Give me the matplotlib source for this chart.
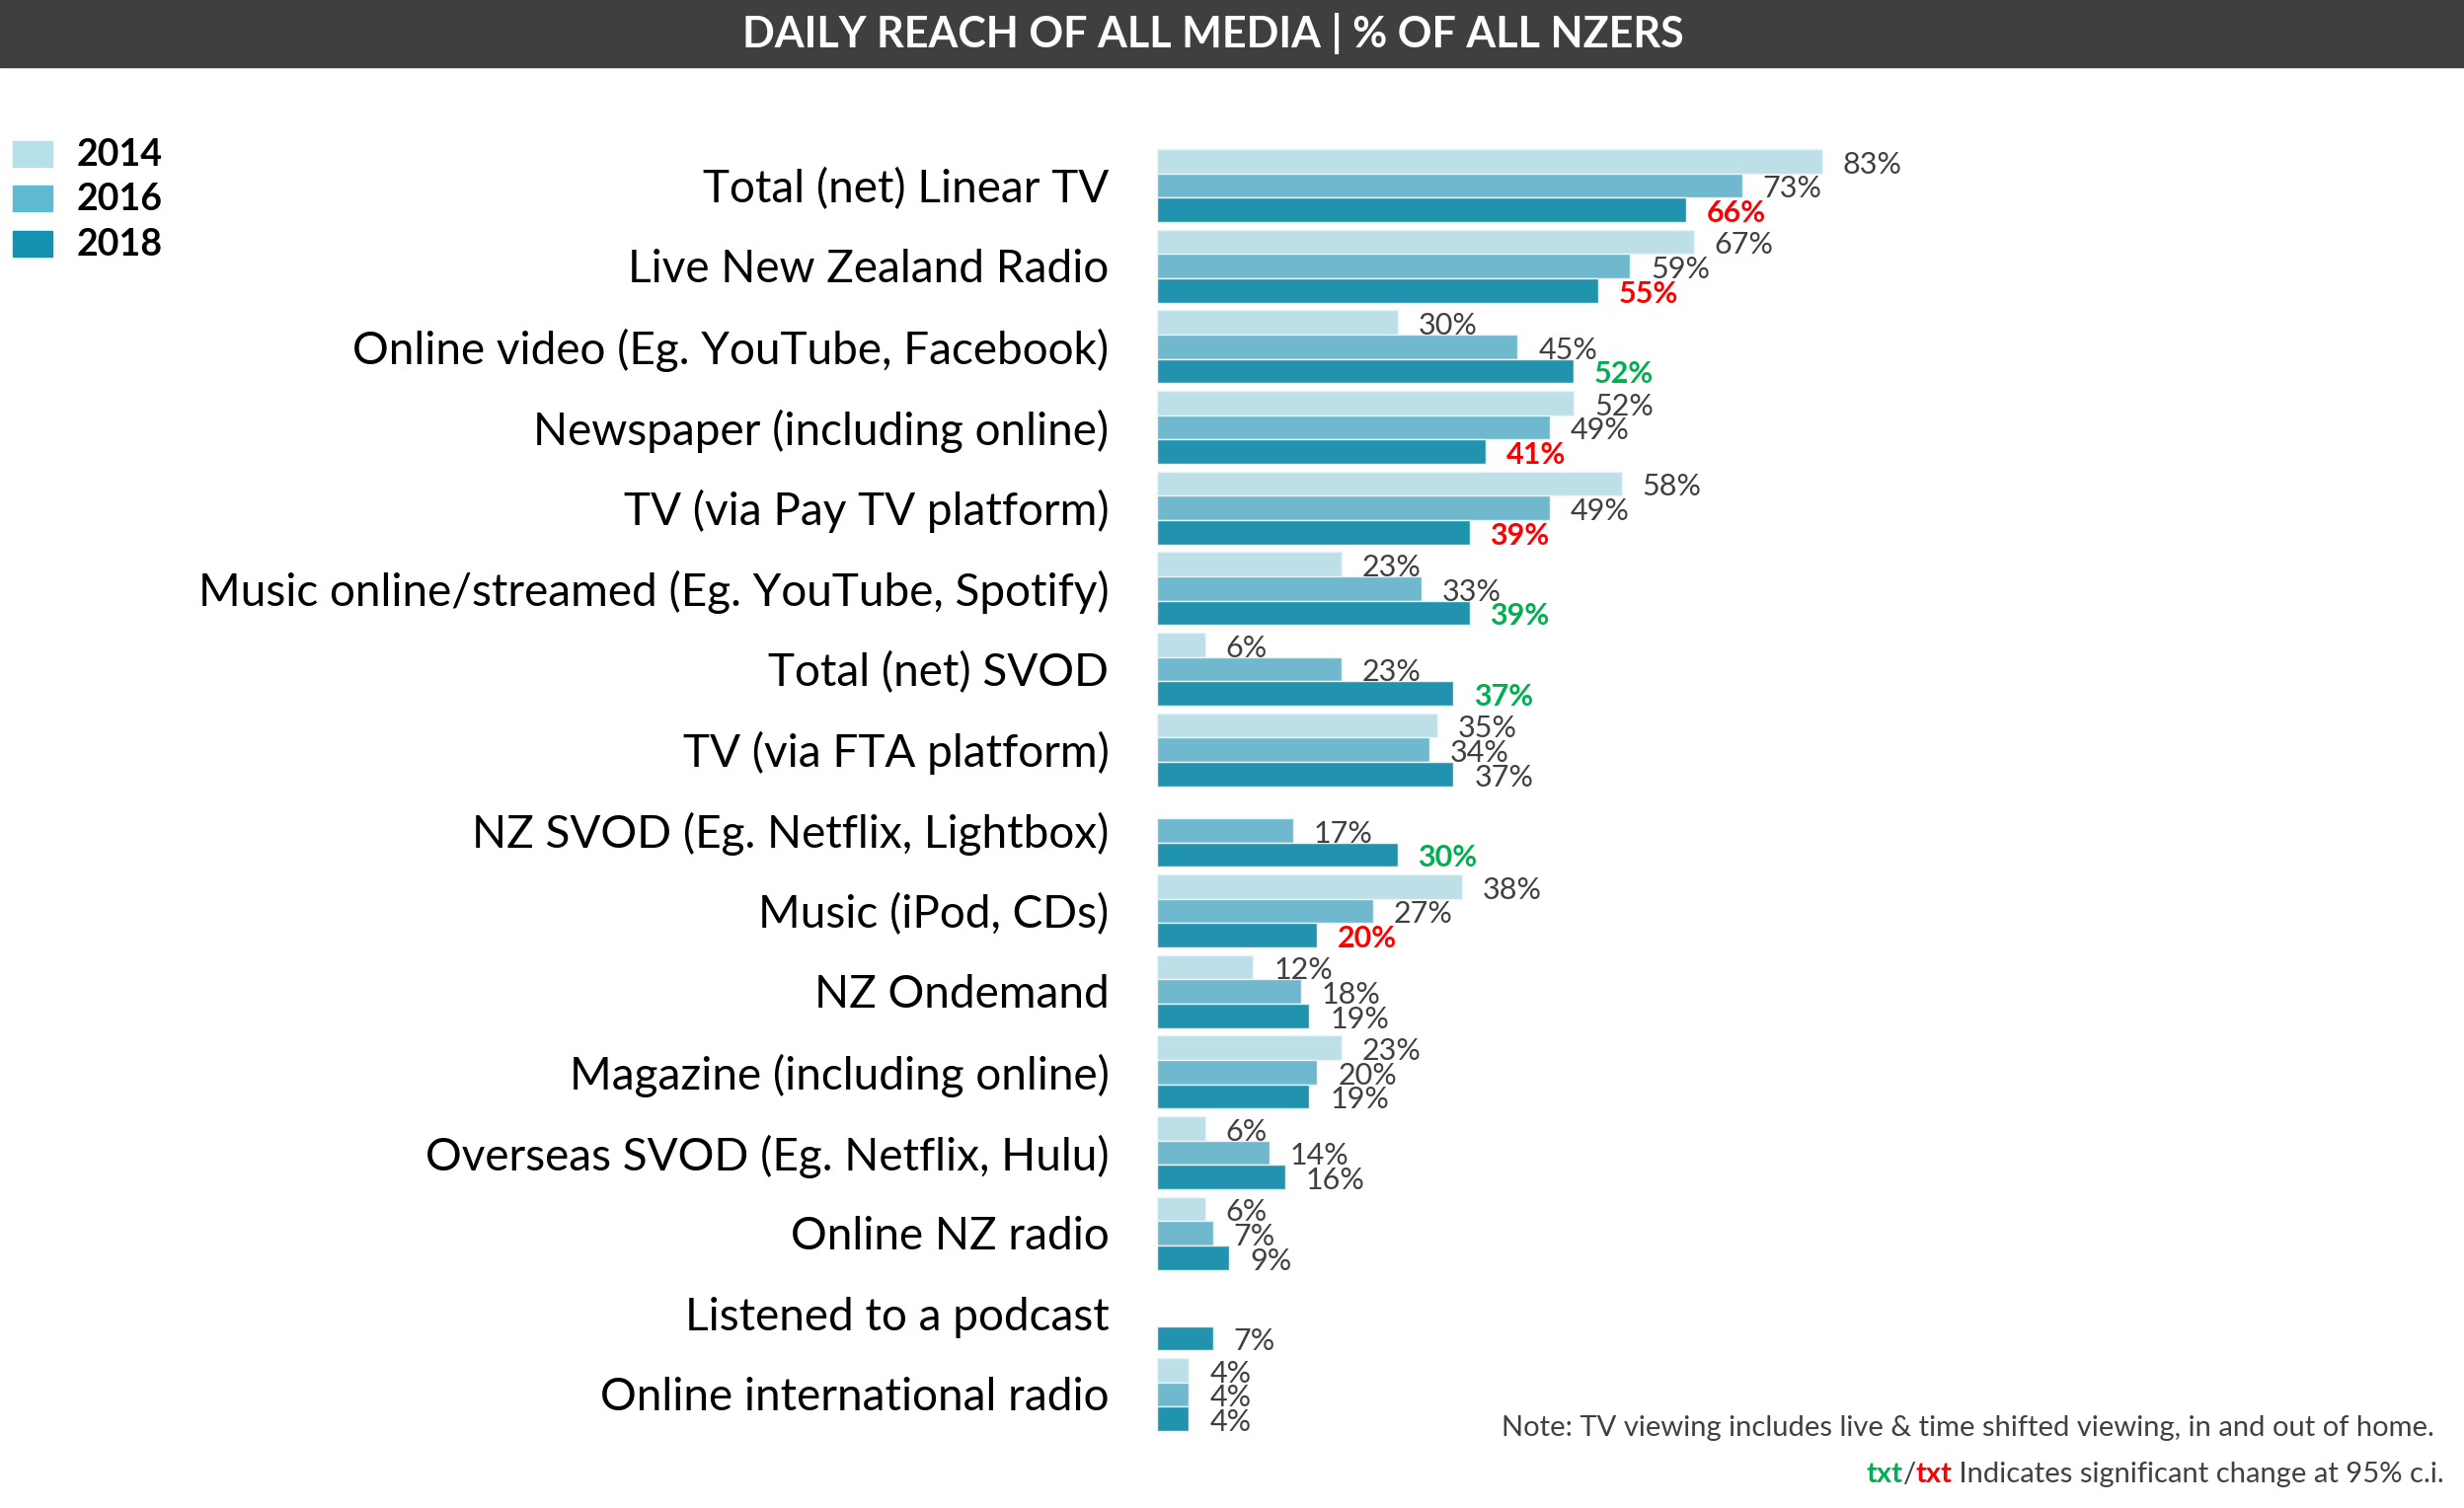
import matplotlib
matplotlib.use("Agg")
import matplotlib.pyplot as plt
from matplotlib import font_manager as fm
from matplotlib.patches import Rectangle

categories = [
    "Total (net) Linear TV",
    "Live New Zealand Radio",
    "Online video (Eg. YouTube, Facebook)",
    "Newspaper (including online)",
    "TV (via Pay TV platform)",
    "Music online/streamed (Eg. YouTube, Spotify)",
    "Total (net) SVOD",
    "TV (via FTA platform)",
    "NZ SVOD (Eg. Netflix, Lightbox)",
    "Music (iPod, CDs)",
    "NZ Ondemand",
    "Magazine (including online)",
    "Overseas SVOD (Eg. Netflix, Hulu)",
    "Online NZ radio",
    "Listened to a podcast",
    "Online international radio",
]
years = ["2014", "2016", "2018"]
v2014 = [83, 67, 30, 52, 58, 23, 6, 35, None, 38, 12, 23, 6, 6, None, 4]
v2016 = [73, 59, 45, 49, 49, 33, 23, 34, 17, 27, 18, 20, 14, 7, None, 4]
v2018 = [66, 55, 52, 41, 39, 39, 37, 37, 30, 20, 19, 19, 16, 9, 7, 4]
# significance of 2018 change: 'up' (green), 'down' (red), None
sig2018 = ["down", "down", "up", "down", "down", "up", "up", None, "up", "down",
           None, None, None, None, None, None]

title = "DAILY REACH OF ALL MEDIA | % OF ALL NZERS"
note1 = "Note: TV viewing includes live & time shifted viewing, in and out of home."
note2 = " Indicates significant change at 95% c.i."

available = {f.name for f in fm.fontManager.ttflist}
FONT = "Liberation Sans Narrow" if "Liberation Sans Narrow" in available else "Lato"
plt.rcParams["font.family"] = [FONT, "DejaVu Sans"]

bar_colors = ["#BDDFE7", "#6FB8CD", "#2293AF"]
leg_colors = ["#B5E0EA", "#5DBACF", "#1592B2"]
txt_col = "#404040"
sig_colors = {"up": "#00B050", "down": "#FF0000"}

W, H = 2496, 1528
fig = plt.figure(figsize=(W / 100, H / 100), dpi=100)

# axes geometry in pixels
ax_left = 1172
ax_width = 812
ax_top = 139
ax_bottom = 1462
ax = fig.add_axes([ax_left / W, 1 - ax_bottom / H, ax_width / W, (ax_bottom - ax_top) / H])
ax.set_xlim(0, 100)
ax.set_ylim(15.6, -0.6)
ax.axis("off")

bh = 0.302
series = [v2014, v2016, v2018]
for si, vals in enumerate(series):
    for ci, v in enumerate(vals):
        if v is None:
            continue
        y = ci + (si - 1) * bh
        ax.barh(y, v, height=bh, color=bar_colors[si], edgecolor="#E8F4F7",
                linewidth=1.0)
        if si == 2 and sig2018[ci] is not None:
            col, fw = sig_colors[sig2018[ci]], "bold"
        else:
            col, fw = txt_col, "normal"
        ax.annotate(f"{v}%", xy=(v, y), xytext=(15, -2.5), textcoords="offset points",
                    ha="left", va="center", fontsize=22, color=col, fontweight=fw)

for ci, cat in enumerate(categories):
    ax.annotate(cat, xy=(0, ci), xytext=(-35, -2.5), textcoords="offset points",
                ha="right", va="center", fontsize=33, color="black")

# title bar
fig.patches.append(Rectangle((0, 1 - 68 / H), 1, 68 / H, transform=fig.transFigure,
                             color="#3F3F3F", zorder=0))
fig.text(1229 / W, 1 - 34 / H, title, ha="center", va="center", color="white",
         fontsize=31, fontweight="bold")

# legend
sq_y = [143, 188, 234]
for i, yr in enumerate(years):
    fig.patches.append(Rectangle((13 / W, 1 - (sq_y[i] + 26) / H), 40 / W, 26 / H,
                                 transform=fig.transFigure, color=leg_colors[i]))
    fig.text(78 / W, 1 - (sq_y[i] + 14) / H, yr, ha="left", va="center",
             fontsize=27, fontweight="bold", color="black")

# notes
fig.text(2466 / W, 1 - 1447 / H, note1, ha="right", va="center", fontsize=21, color=txt_col)
t = fig.text(2476 / W, 1 - 1494 / H, note2, ha="right", va="center", fontsize=21, color=txt_col)
fig.canvas.draw()
bb = t.get_window_extent()
x_r = bb.x0
t3 = fig.text(x_r / W, 1 - 1494 / H, "txt", ha="right", va="center", fontsize=21,
              color="#FF0000", fontweight="bold")
fig.canvas.draw()
x_r = t3.get_window_extent().x0
t2 = fig.text(x_r / W, 1 - 1494 / H, "/", ha="right", va="center", fontsize=21, color=txt_col)
fig.canvas.draw()
x_r = t2.get_window_extent().x0
fig.text(x_r / W, 1 - 1494 / H, "txt", ha="right", va="center", fontsize=21,
         color="#00B050", fontweight="bold")

fig.savefig("out.png", dpi=100)
